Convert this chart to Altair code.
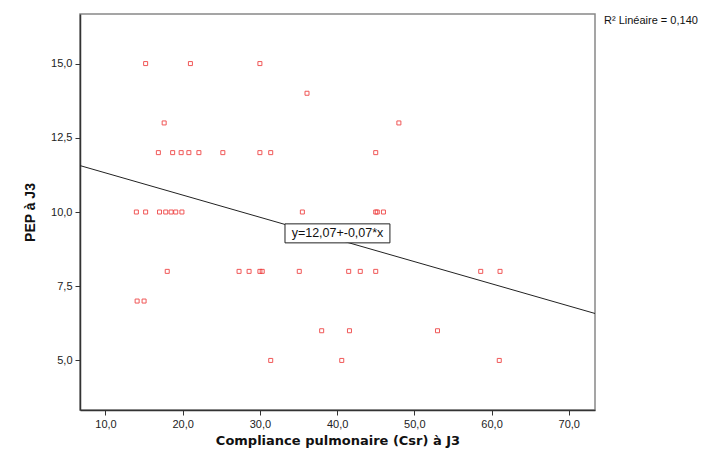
import altair as alt
import pandas as pd

# Data
x_vals = [15.2, 21.0, 30.0,
          36.1,
          17.6, 48.0,
          16.85, 18.7, 19.8, 20.8, 22.1, 25.2, 30.0, 31.4, 45.0,
          14.0, 15.2, 17.0, 17.8, 18.5, 19.1, 19.9, 35.5, 45.0, 45.2, 46.0,
          18.0, 27.3, 28.6, 30.0, 30.3, 35.1, 41.5, 43.0, 45.0, 58.6, 61.1,
          14.1, 15.0,
          38.0, 41.6, 53.0,
          31.4, 40.6, 61.0]
y_vals = [15] * 3 + [14] * 1 + [13] * 2 + [12] * 9 + [10] * 11 + [8] * 11 + [7] * 2 + [6] * 3 + [5] * 3

x_ticks = [10, 20, 30, 40, 50, 60, 70]
y_ticks = [5, 7.5, 10, 12.5, 15]
x_domain = [6.7, 73.4]
y_domain = [3.33, 16.67]

eq_text = ["y=12,07+-0,07*x"]
eq_x = [40.05]
eq_y = [9.28]
eq_box = {"x": [33.25], "x2": [46.84], "y": [9.60], "y2": [8.96]}
r2_text = ["R² Linéaire = 0,140"]

df = pd.DataFrame({"x": x_vals, "y": y_vals})

W, H = 515, 396
FONT = "Liberation Sans"
label_expr = "replace(format(datum.value, '.1f'), '.', ',')"

xs = alt.Scale(domain=x_domain, nice=False, zero=False)
ys = alt.Scale(domain=y_domain, nice=False, zero=False)

x_axis = alt.Axis(values=x_ticks, labelExpr=label_expr, title="Compliance pulmonaire (Csr) à J3",
                  grid=False, tickSize=5, tickColor="#333", domainColor="#333", domainWidth=1.5,
                  labelFont=FONT, labelFontSize=11, labelColor="#222", labelPadding=3,
                  titleFont="DejaVu Sans", titleFontSize=13, titleFontWeight="bold", titleColor="#111",
                  titlePadding=5)
y_axis = alt.Axis(values=y_ticks, labelExpr=label_expr, title="PEP à J3",
                  grid=False, tickSize=5, tickColor="#333", domainColor="#333", domainWidth=1.5,
                  labelFont=FONT, labelFontSize=11, labelColor="#222", labelPadding=3,
                  titleFont=FONT, titleFontSize=14, titleFontWeight="bold", titleColor="#111",
                  titlePadding=13)

base = alt.Chart(df)

points = base.mark_square(filled=False, size=16, stroke="#ee3b3b", strokeWidth=1, opacity=0.85).encode(
    x=alt.X("x:Q", scale=xs, axis=x_axis),
    y=alt.Y("y:Q", scale=ys, axis=y_axis),
)

reg = base.transform_regression("x", "y", extent=x_domain).mark_line(color="#222", strokeWidth=1).encode(
    x=alt.X("x:Q", scale=xs),
    y=alt.Y("y:Q", scale=ys),
)

box_df = pd.DataFrame(eq_box)
box = alt.Chart(box_df).mark_rect(fill="white", stroke="#222", strokeWidth=1).encode(
    x=alt.X("x:Q", scale=xs), x2="x2:Q",
    y=alt.Y("y:Q", scale=ys), y2="y2:Q",
)

eq_df = pd.DataFrame({"x": eq_x, "y": eq_y, "t": eq_text})
eq = alt.Chart(eq_df).mark_text(font=FONT, fontSize=12.5, color="#111", align="center", baseline="middle").encode(
    x=alt.X("x:Q", scale=xs), y=alt.Y("y:Q", scale=ys), text="t:N"
)

r2_df = pd.DataFrame({"t": r2_text})
r2 = alt.Chart(r2_df).mark_text(font=FONT, fontSize=11, color="#111", align="left", baseline="middle").encode(
    x=alt.value(W + 9), y=alt.value(7), text="t:N"
)

chart = alt.layer(points, reg, box, eq, r2).properties(
    width=W, height=H,
    autosize=alt.AutoSizeParams(type="none"),
    padding={"left": 72, "top": 6, "right": 105, "bottom": 50},
    background="white",
).configure_view(stroke="#888", strokeWidth=1.5)

chart.save("out.html", embed_options={"renderer": "svg", "actions": False})
